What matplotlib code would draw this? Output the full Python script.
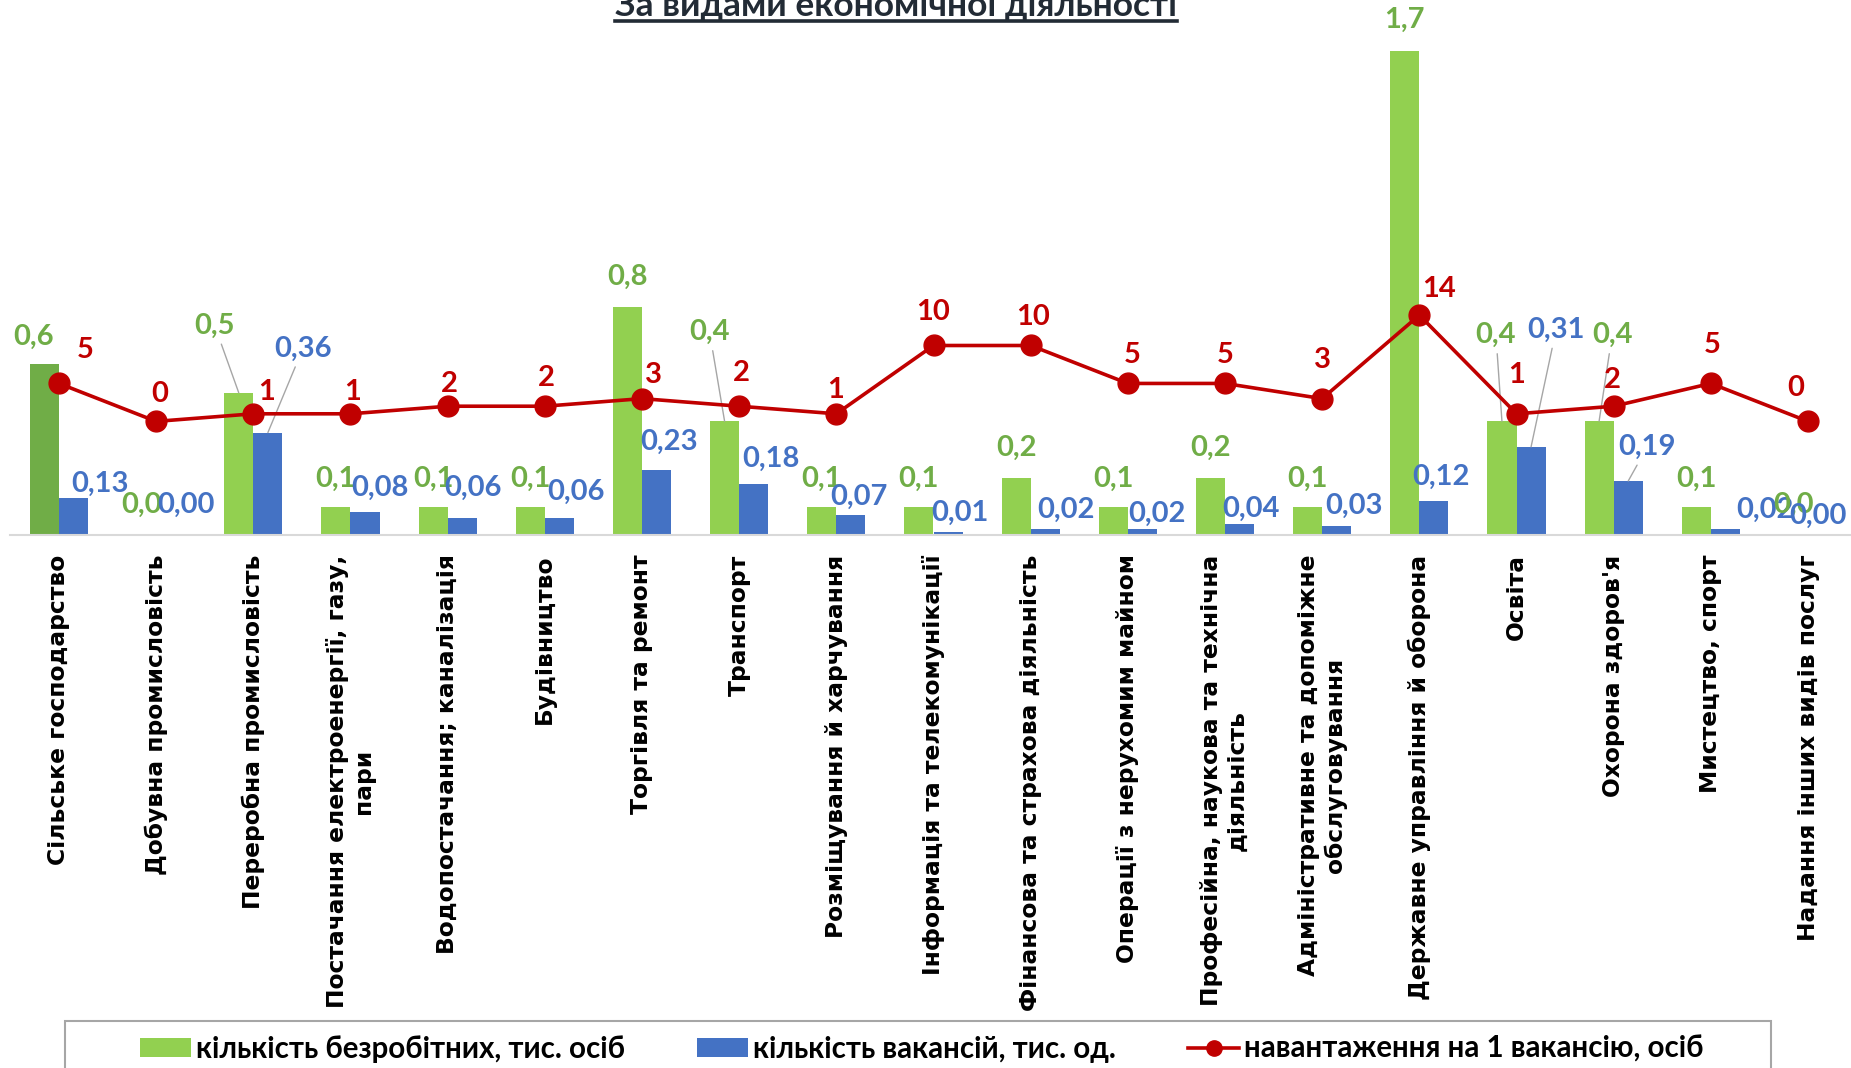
import matplotlib
matplotlib.use("Agg")
import matplotlib.pyplot as plt
from matplotlib.patches import Patch, Rectangle
from matplotlib.lines import Line2D

# ---------------- data ----------------
categories = ["Сільське господарство", "Добувна промисловість", "Переробна промисловість",
              "Постачання електроенергії, газу,\nпари", "Водопостачання; каналізація",
              "Будівництво", "Торгівля та ремонт", "Транспорт", "Розміщування й харчування",
              "Інформація та телекомунікації", "Фінансова та страхова діяльність",
              "Операції з нерухомим майном", "Професійна, наукова та технічна\nдіяльність",
              "Адміністративне та допоміжне\nобслуговування", "Державне управління й оборона",
              "Освіта", "Охорона здоров'я", "Мистецтво, спорт", "Надання інших видів послуг"]
unemployed = [0.6, 0.0, 0.5, 0.1, 0.1, 0.1, 0.8, 0.4, 0.1, 0.1, 0.2, 0.1, 0.2, 0.1, 1.7, 0.4, 0.4, 0.1, 0.0]
vacancies = [0.13, 0.00, 0.36, 0.08, 0.06, 0.06, 0.23, 0.18, 0.07, 0.01, 0.02, 0.02, 0.04, 0.03, 0.12, 0.31, 0.19, 0.02, 0.00]
load = [5, 0, 1, 1, 2, 2, 3, 2, 1, 10, 10, 5, 5, 3, 14, 1, 2, 5, 0]
series_names = ["кількість безробітних, тис. осіб", "кількість вакансій, тис. од.",
                "навантаження на 1 вакансію, осіб"]
title = "За видами економічної діяльності"

# ---------------- label placement (pixels) ----------------
g_off = [(-11, 27), (0, 30), (-24, 67), (0, 28), (0, 28), (0, 28), (0, 31), (-15, 89), (0, 28), (0, 28),
         (0, 30), (0, 28), (0, 30), (0, 28), (0, 31), (-6, 86), (13, 86), (0, 28), (0, 30)]
g_lead = [2, 7, 15, 16]
b_off = [(26, 14), (15, 30), (35, 84), (15, 24), (11, 30), (17, 26), (12, 28), (17, 25), (8, 18), (12, 19),
         (21, 19), (15, 15), (11, 15), (17, 21), (7, 24), (25, 117), (19, 34), (40, 19), (-5, 19)]
b_lead = [2, 15, 16]
r_off = [(26, 33), (4, 27), (13, 22), (2, 22), (2, 22), (2, 28), (11, 24), (2, 33), (-1, 24), (0, 33),
         (2, 28), (4, 28), (0, 28), (0, 39), (20, 26), (0, 39), (-1, 26), (1, 38), (-12, 33)]

GREEN, GREEN_D, BLUE, RED = "#92D050", "#70AD47", "#4472C4", "#C00000"
LBL_FONT = ["Lato", "DejaVu Sans"]

W, H = 1851, 1068
fig = plt.figure(figsize=(W / 100, H / 100), dpi=100)
renderer = fig.canvas.get_renderer()


def text_w(s, family, size, weight="bold"):
    t = fig.text(0, 0, s, fontsize=size, family=family, weight=weight)
    w = t.get_window_extent(renderer).width
    t.remove()
    return w


def fit_size(s, family, target, base=20.0, weight="bold"):
    return base * target / text_w(s, family, base, weight)


ax = fig.add_axes([10.4 / W, 1 - 535 / H, 1846.2 / W, 515 / H])
x = list(range(len(categories)))
bw = 0.3
gcolors = [GREEN_D] + [GREEN] * (len(categories) - 1)
gbars = ax.bar([i - bw / 2 for i in x], unemployed, width=bw, color=gcolors, zorder=2)
bbars = ax.bar([i + bw / 2 for i in x], vacancies, width=bw, color=BLUE, zorder=2)
ax.set_xlim(-0.5, len(categories) - 0.5)
ax.set_ylim(0, 1.81)
for s in ["top", "left", "right"]:
    ax.spines[s].set_visible(False)
ax.spines["bottom"].set_color("#D9D9D9")
ax.spines["bottom"].set_linewidth(1.5)
ax.set_yticks([])

tick_fs = fit_size("Сільське господарство", "DejaVu Sans", 310)
ax.set_xticks(x)
ax.set_xticklabels(categories, rotation=90, fontsize=tick_fs, fontweight="bold",
                   family="DejaVu Sans", multialignment="center")
ax.tick_params(axis="x", length=0, pad=14)

ax2 = ax.twinx()
ax2.set_ylim(-14.97, 52.89)
ax2.set_yticks([])
for s in ax2.spines.values():
    s.set_visible(False)
line, = ax2.plot(x, load, color=RED, lw=2.6, marker="o", markersize=15, zorder=3)

lbl_fs = 21
lead = dict(arrowstyle="-", color="#A6A6A6", lw=1.0, shrinkA=2, shrinkB=0)


def fmt(v, d):
    return f"{v:.{d}f}".replace(".", ",")


for i in x:
    ax.annotate(fmt(unemployed[i], 1), xy=(i - bw / 2, unemployed[i]), xytext=g_off[i],
                textcoords="offset pixels", ha="center", va="center", fontsize=lbl_fs,
                fontweight="bold", family=LBL_FONT, color=GREEN_D,
                arrowprops=lead if i in g_lead else None, zorder=5)
    ax.annotate(fmt(vacancies[i], 2), xy=(i + bw / 2, vacancies[i]), xytext=b_off[i],
                textcoords="offset pixels", ha="center", va="center", fontsize=lbl_fs,
                fontweight="bold", family=LBL_FONT, color=BLUE,
                arrowprops=lead if i in b_lead else None, zorder=5)
    ax2.annotate(str(load[i]), xy=(i, load[i]), xytext=r_off[i], textcoords="offset pixels",
                 ha="center", va="center", fontsize=lbl_fs, fontweight="bold",
                 family=LBL_FONT, color=RED, zorder=5)

# title with underline
tcol = "#222B35"
title_fs = fit_size(title, LBL_FONT, 564)
tt = fig.text(896 / W, 1 - 16 / H, title, ha="center", va="baseline", fontsize=title_fs,
              fontweight="bold", family=LBL_FONT, color=tcol)
bb = tt.get_window_extent(renderer)
fig.add_artist(Line2D([bb.x0 / W, bb.x1 / W], [1 - 21 / H, 1 - 21 / H], transform=fig.transFigure,
                      color=tcol, lw=2.6))

# legend (font fitted to the total width of the three texts in the reference)
tot = sum(text_w(s, LBL_FONT, 20) for s in series_names)
leg_fs = 20 * 1260 / tot
fs_px = leg_fs * 100 / 72
handles = [Patch(facecolor=GREEN), Patch(facecolor=BLUE),
           Line2D([], [], color=RED, lw=2.6, marker="o", markersize=11)]
fig.legend(handles, series_names, loc="center", bbox_to_anchor=(922 / W, 1 - 1049 / H), ncol=3,
           frameon=False, prop=dict(family=LBL_FONT, weight="bold", size=leg_fs),
           handlelength=51 / fs_px, handleheight=18 / fs_px, handletextpad=5 / fs_px,
           columnspacing=72 / fs_px, borderpad=0, borderaxespad=0)
fig.add_artist(Rectangle((65 / W, -0.02), 1706 / W, 0.02 + 1 - 1021 / H, transform=fig.transFigure,
                         fill=False, edgecolor="#A6A6A6", lw=1.5, clip_on=False))

fig.savefig("out.png", dpi=100)
